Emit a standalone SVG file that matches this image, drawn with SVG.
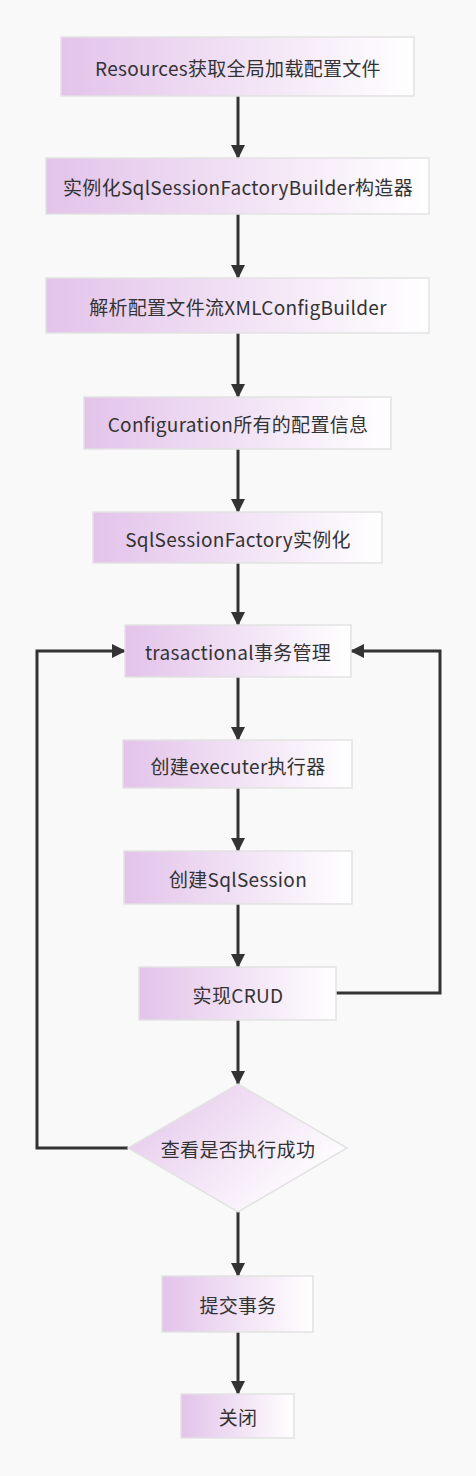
<svg xmlns="http://www.w3.org/2000/svg" width="476" height="1476" viewBox="0 0 476 1476">
<defs>
<linearGradient id="g" x1="0" y1="0" x2="1" y2="0">
<stop offset="0" stop-color="#e3c3ea"/>
<stop offset="1" stop-color="#ffffff"/>
</linearGradient>
<linearGradient id="gd" x1="0" y1="0" x2="1" y2="0.6">
<stop offset="0" stop-color="#e3c3ea"/>
<stop offset="1" stop-color="#ffffff"/>
</linearGradient>
<marker id="a" viewBox="0 0 14 14" refX="13" refY="7" markerWidth="14" markerHeight="14" markerUnits="userSpaceOnUse" orient="auto">
<path d="M0,0 L14,7 L0,14 Z" fill="#333"/>
</marker>
<style>
.n{fill:url(#g);stroke:#e2e2e2;stroke-width:1.5}
.d{fill:url(#gd);stroke:#e2e2e2;stroke-width:1.5}
.t{font-family:"Noto Sans CJK SC","Noto Sans",sans-serif;font-size:19px;letter-spacing:0.3px;fill:#333;text-anchor:middle;dominant-baseline:central}
.c{fill:none;stroke:#333;stroke-width:3;marker-end:url(#a)}
</style>
</defs>
<rect width="476" height="1476" fill="#f9f9f9"/>
<g id="connectors">
<path class="c" d="M238,96 V158"/>
<path class="c" d="M238,214 V278"/>
<path class="c" d="M238,333 V397"/>
<path class="c" d="M238,449 V512"/>
<path class="c" d="M238,563 V625"/>
<path class="c" d="M238,677 V740"/>
<path class="c" d="M238,788 V851"/>
<path class="c" d="M238,904 V967"/>
<path class="c" d="M238,1020 V1084"/>
<path class="c" d="M238,1212 V1276"/>
<path class="c" d="M238,1332 V1394"/>
<path class="c" d="M336,993 H440 V651 H351"/>
<path class="c" d="M128,1148 H37 V651 H125"/>
</g>
<g id="n1"><rect class="n" x="61" y="37" width="353" height="59"/><text class="t" x="238" y="67">Resources获取全局加载配置文件</text></g>
<g id="n2"><rect class="n" x="46" y="158" width="383" height="56"/><text class="t" x="238" y="186">实例化SqlSessionFactoryBuilder构造器</text></g>
<g id="n3"><rect class="n" x="46" y="278" width="383" height="55"/><text class="t" x="238" y="306">解析配置文件流XMLConfigBuilder</text></g>
<g id="n4"><rect class="n" x="84" y="397" width="307" height="52"/><text class="t" x="238" y="423">Configuration所有的配置信息</text></g>
<g id="n5"><rect class="n" x="93" y="512" width="289" height="51"/><text class="t" x="238" y="538">SqlSessionFactory实例化</text></g>
<g id="n6"><rect class="n" x="125" y="625" width="226" height="52"/><text class="t" x="238" y="651">trasactional事务管理</text></g>
<g id="n7"><rect class="n" x="123" y="740" width="229" height="48"/><text class="t" x="238" y="765">创建executer执行器</text></g>
<g id="n8"><rect class="n" x="124" y="851" width="228" height="53"/><text class="t" x="238" y="878">创建SqlSession</text></g>
<g id="n9"><rect class="n" x="139" y="967" width="197" height="53"/><text class="t" x="238" y="994">实现CRUD</text></g>
<g id="n10"><path class="d" d="M238,1084 L347,1148 L238,1212 L128,1148 Z"/><text class="t" x="238" y="1148">查看是否执行成功</text></g>
<g id="n11"><rect class="n" x="162" y="1276" width="151" height="56"/><text class="t" x="238" y="1304">提交事务</text></g>
<g id="n12"><rect class="n" x="181" y="1394" width="113" height="44"/><text class="t" x="238" y="1416">关闭</text></g>
</svg>
